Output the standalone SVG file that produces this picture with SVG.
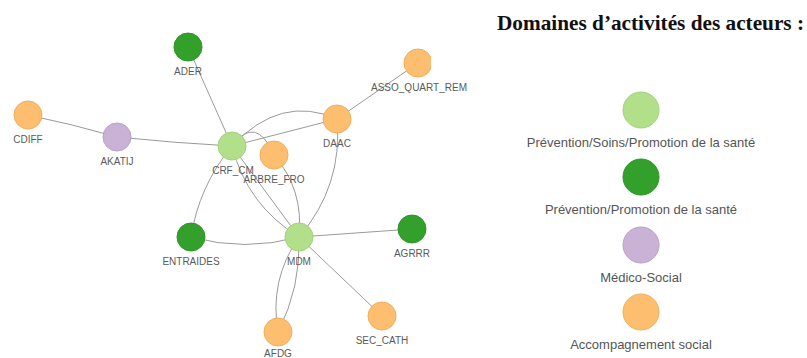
<svg xmlns="http://www.w3.org/2000/svg" width="807" height="358" viewBox="0 0 807 358">
<style>
.edge{fill:none;stroke:#9a9a9a;stroke-width:1}
.lbl{font-family:"Liberation Sans",Arial,sans-serif;font-size:10px;fill:#5a5a5a;text-anchor:middle}
.leg{font-family:"Liberation Sans",Arial,sans-serif;font-size:13px;fill:#555;text-anchor:middle}
.title{font-family:"Liberation Serif","Times New Roman",serif;font-size:21px;font-weight:bold;fill:#111}
.c1{fill:#b2df8a;stroke:#a3d27b;stroke-width:1}
.c2{fill:#33a02c;stroke:#2e9428;stroke-width:1}
.c3{fill:#cab2d6;stroke:#bba2c9;stroke-width:1}
.c4{fill:#fdbf6f;stroke:#f0ae5e;stroke-width:1}
</style>
<defs>
<clipPath id="clipR"><rect x="0" y="0" width="431" height="358"/></clipPath>
</defs>
<rect width="807" height="358" fill="#fff"/>
<g id="connectors">
<path class="edge" d="M188 47 L232 146"/>
<path class="edge" d="M28 115 Q72 124 117 137"/>
<path class="edge" d="M117 137 Q175 143 232 146"/>
<path class="edge" d="M232 146 L337 119"/>
<path class="edge" d="M232 146 Q281 94 337 119"/>
<path class="edge" d="M337 119 L418 63"/>
<path class="edge" d="M232 146 Q256 114 274 155"/>
<path class="edge" d="M232 146 L299 237"/>
<path class="edge" d="M232 146 Q247 205 299 237"/>
<path class="edge" d="M274 155 Q304 190 299 237"/>
<path class="edge" d="M337 119 Q343 186 299 237"/>
<path class="edge" d="M232 146 Q199 186 191 237"/>
<path class="edge" d="M191 237 Q245 252 299 237"/>
<path class="edge" d="M299 237 L412 229"/>
<path class="edge" d="M299 237 L382 316"/>
<path class="edge" d="M299 237 Q269 280 278 332"/>
<path class="edge" d="M299 237 Q301 287 278 332"/>
</g>
<g id="ADER"><circle class="c2" cx="188" cy="47" r="14"/><text class="lbl" x="188" y="75">ADER</text></g>
<g id="CDIFF"><circle class="c4" cx="28" cy="115" r="14"/><text class="lbl" x="28" y="143">CDIFF</text></g>
<g id="AKATIJ"><circle class="c3" cx="117" cy="137" r="14"/><text class="lbl" x="117" y="165">AKATIJ</text></g>
<g id="CRF_CM"><circle class="c1" cx="232" cy="146" r="14"/><text class="lbl" x="233" y="174">CRF_CM</text></g>
<g id="ARBRE_FRO"><circle class="c4" cx="274" cy="155" r="14"/><text class="lbl" x="274" y="183">ARBRE_FRO</text></g>
<g id="DAAC"><circle class="c4" cx="337" cy="119" r="14"/><text class="lbl" x="337" y="147">DAAC</text></g>
<g id="ASSO_QUART_REM"><circle class="c4" cx="418" cy="63" r="14" clip-path="url(#clipR)"/><text class="lbl" x="419" y="91">ASSO_QUART_REM</text></g>
<g id="ENTRAIDES"><circle class="c2" cx="191" cy="237" r="14"/><text class="lbl" x="191" y="265">ENTRAIDES</text></g>
<g id="MDM"><circle class="c1" cx="299" cy="237" r="14"/><text class="lbl" x="299" y="265">MDM</text></g>
<g id="AGRRR"><circle class="c2" cx="412" cy="229" r="14"/><text class="lbl" x="412" y="257">AGRRR</text></g>
<g id="AFDG"><circle class="c4" cx="278" cy="332" r="14"/><text class="lbl" x="278" y="357">AFDG</text></g>
<g id="SEC_CATH"><circle class="c4" cx="382" cy="316" r="14"/><text class="lbl" x="382" y="344">SEC_CATH</text></g>
<g id="legend">
<text class="title" x="497" y="30" textLength="307" lengthAdjust="spacingAndGlyphs">Domaines d’activités des acteurs :</text>
<circle class="c1" cx="641" cy="110" r="18"/>
<text class="leg" x="641" y="147">Prévention/Soins/Promotion de la santé</text>
<circle class="c2" cx="641" cy="177" r="18"/>
<text class="leg" x="641" y="214">Prévention/Promotion de la santé</text>
<circle class="c3" cx="641" cy="245" r="18"/>
<text class="leg" x="641" y="282">Médico-Social</text>
<circle class="c4" cx="641" cy="312" r="18"/>
<text class="leg" x="641" y="349">Accompagnement social</text>
</g>
</svg>
